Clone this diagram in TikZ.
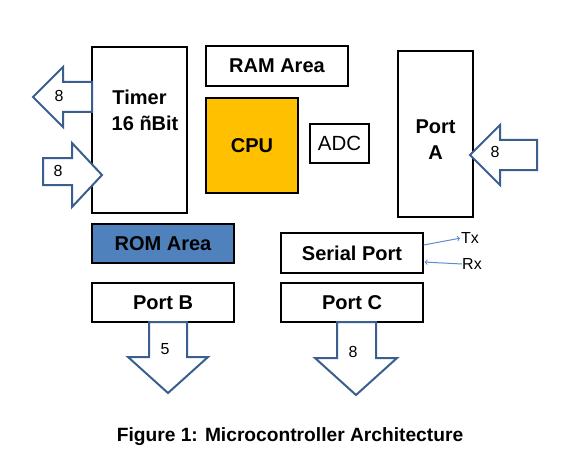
\documentclass[tikz,border=0pt]{standalone}
\usepackage{fontspec}
\setmainfont{Liberation Sans}
\usetikzlibrary{positioning}

\definecolor{cpuorange}{HTML}{FFC000}
\definecolor{romblue}{HTML}{4F81BD}
\definecolor{arrowblue}{HTML}{3A5F8F}
\definecolor{linkblue}{HTML}{5B8BD0}

\begin{document}
\begin{tikzpicture}[
        x=1pt, y=-1pt,
        box/.style={rectangle, draw, line width=1.2pt, fill=white, inner sep=0pt, align=center, font=\bfseries\fontsize{20}{26}\selectfont},
        fatarrow/.style={draw=arrowblue, line width=2pt, fill=white, line join=miter},
        num/.style={inner sep=0pt, font=\fontsize{16}{18}\selectfont},
        link/.style={->, draw=linkblue, line width=1pt, shorten >=1pt}
    ]
        \useasboundingbox (0,0) rectangle (578,468);

        \node[box, minimum width=95pt, minimum height=166pt] (timer) at (139.5,130) {Timer\\ \phantom{1}16 ñBit\\[13pt]};
        \node[box, minimum width=142pt, minimum height=40pt] (ram) at (277,66) {RAM Area};
        \node[box, fill=cpuorange, minimum width=92pt, minimum height=95pt] (cpu) at (252,145.5) {CPU};
        \node[box, font=\fontsize{20.5}{24}\selectfont, minimum width=59pt, minimum height=39pt] (adc) at (339.5,143.5) {ADC};
        \node[box, minimum width=75pt, minimum height=166pt] (porta) at (435.5,134) {\rule{0pt}{25pt}Port\\[1pt] A};
        \node[box, fill=romblue, minimum width=142pt, minimum height=39pt] (rom) at (163,243.5) {ROM Area};
        \node[box, minimum width=142pt, minimum height=40pt] (serial) at (352,253) {Serial Port};
        \node[box, minimum width=142pt, minimum height=39pt] (portb) at (163,302.5) {Port B};
        \node[box, minimum width=142pt, minimum height=39pt] (portc) at (352,302.5) {Port C};

        % block arrows
        \draw[fatarrow] (92,82) -- (63,82) -- (63,67) -- (33,97) -- (63,127) -- (63,112) -- (92,112) -- cycle;
        \draw[fatarrow] (43,158) -- (72,158) -- (72,143) -- (102,175) -- (72,207) -- (72,185) -- (43,185) -- cycle;
        \draw[fatarrow] (470,155) -- (500,125) -- (500,140) -- (537,140) -- (537,170) -- (500,170) -- (500,185) -- cycle;
        \draw[fatarrow] (149,322) -- (149,357) -- (128,357) -- (168,393) -- (208,357) -- (187,357) -- (187,322) -- cycle;
        \draw[fatarrow] (337,322) -- (337,358) -- (315,358) -- (356,395) -- (397,358) -- (376,358) -- (376,322) -- cycle;

        \node[num] (timerout) at (59,96) {8};
        \node[num] (timerin) at (58,171) {8};
        \node[num] (portain) at (495,152) {8};
        \node[num] (portbout) at (165,349) {5};
        \node[num] (portcout) at (353,352) {8};

        % serial lines
        \node[num, anchor=west] (tx) at (461,238) {Tx};
        \node[num, anchor=west] (rx) at (462,264) {Rx};
        \draw[link] ([yshift=8pt]serial.east) -- (tx.west);
        \draw[link] (rx.west) -- ([yshift=-9pt]serial.east);

        \node[font=\bfseries\fontsize{19.2}{22}\selectfont] (caption) at (290,437) {Figure 1: Microcontroller Architecture};
    \end{tikzpicture}
\end{document}
